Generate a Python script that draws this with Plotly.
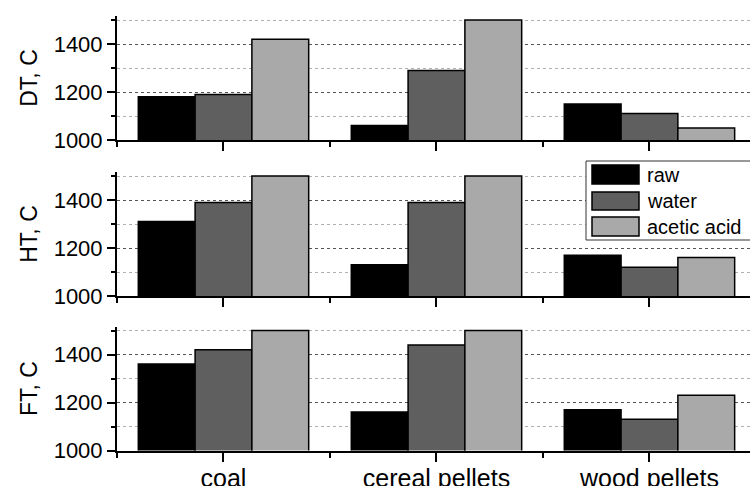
import plotly.graph_objects as go

categories = ["coal", "cereal pellets", "wood pellets"]
series_names = ["raw", "water", "acetic acid"]
series_colors = ["#000000", "#5f5f5f", "#a9a9a9"]

dt_raw = [1180, 1060, 1150]
dt_water = [1190, 1290, 1110]
dt_acid = [1420, 1500, 1050]

ht_raw = [1310, 1130, 1170]
ht_water = [1390, 1390, 1120]
ht_acid = [1500, 1500, 1160]

ft_raw = [1360, 1160, 1170]
ft_water = [1420, 1440, 1130]
ft_acid = [1500, 1500, 1230]

panel_titles = ["DT, C", "HT, C", "FT, C"]
panels = [
    [dt_raw, dt_water, dt_acid],
    [ht_raw, ht_water, ht_acid],
    [ft_raw, ft_water, ft_acid],
]

W, H = 750, 486
FONT = "Liberation Sans, Arial, sans-serif"
x_pos = list(range(len(categories)))

fig = go.Figure()

# panel pixel extents (top, bottom)
panel_px = [(16, 140), (172, 296), (326.5, 450.5)]

for i, vals in enumerate(panels):
    xa = "x" if i == 0 else f"x{i+1}"
    ya = "y" if i == 0 else f"y{i+1}"
    for name, col, v in zip(series_names, series_colors, vals):
        fig.add_trace(go.Bar(
            x=x_pos, y=v, name=name, xaxis=xa, yaxis=ya,
            marker=dict(color=col, line=dict(color="#000000", width=1.5)),
            showlegend=False,
        ))

layout = dict(
    width=W, height=H,
    margin=dict(l=0, r=0, t=0, b=0),
    paper_bgcolor="white", plot_bgcolor="white",
    barmode="group", bargap=0.2, bargroupgap=0,
    font=dict(family=FONT, color="#000000", size=22),
    showlegend=False,
)

x_domain = [117 / W, 1.0]
for i, (top, bot) in enumerate(panel_px):
    xk = "xaxis" if i == 0 else f"xaxis{i+1}"
    yk = "yaxis" if i == 0 else f"yaxis{i+1}"
    ya = "y" if i == 0 else f"y{i+1}"
    xa = "x" if i == 0 else f"x{i+1}"
    layout[xk] = dict(
        domain=x_domain, anchor=ya,
        range=[-0.5, 2.472],
        tickmode="array", tickvals=x_pos, ticktext=categories,
        showticklabels=(i == 2),
        ticks="outside", ticklen=9, tickwidth=2, tickcolor="#000000",
        minor=dict(tickmode="array", tickvals=[-0.5, 0.5, 1.5, 2.5],
                   ticks="outside", ticklen=5, tickwidth=2, tickcolor="#000000"),
        showline=True, linecolor="#000000", linewidth=2,
        showgrid=False, zeroline=False,
        tickfont=dict(size=25, family=FONT),
        ticklabelstandoff=-5,
        automargin=False, fixedrange=True,
    )
    layout[yk] = dict(
        domain=[1 - bot / H, 1 - top / H], anchor=xa,
        range=[1000, 1516.7],
        tickmode="array", tickvals=[1000, 1200, 1400],
        ticks="outside", ticklen=8, tickwidth=2, tickcolor="#000000",
        minor=dict(tickmode="array", tickvals=[1100, 1300, 1500],
                   ticks="outside", ticklen=4, tickwidth=2, tickcolor="#000000",
                   showgrid=True, gridcolor="#b0b0b0", griddash="dot", gridwidth=1),
        showgrid=True, gridcolor="#555555", griddash="dot", gridwidth=1,
        showline=True, linecolor="#000000", linewidth=2,
        zeroline=False,
        tickfont=dict(size=22, family=FONT),
        title=dict(text=panel_titles[i], font=dict(size=23, family=FONT), standoff=10),
        automargin=False, fixedrange=True,
    )

fig.update_layout(**layout)

# Legend drawn manually (box, swatches, labels) in paper coordinates
def px(x):
    return x / W

def py(y):
    return 1 - y / H

shapes = [dict(type="rect", xref="paper", yref="paper",
               x0=px(586), x1=px(753), y0=py(240), y1=py(161),
               fillcolor="white", line=dict(color="#333333", width=1), layer="above")]
rows = [(165, 184), (192, 210), (217, 236)]
annotations = []
for (t, b), name, col in zip(rows, series_names, series_colors):
    shapes.append(dict(type="rect", xref="paper", yref="paper",
                       x0=px(592), x1=px(639), y0=py(b), y1=py(t),
                       fillcolor=col, line=dict(color="#000000", width=1.5), layer="above"))
    annotations.append(dict(xref="paper", yref="paper", x=px(645), y=py((t + b) / 2),
                            text=name, showarrow=False, xanchor="left", yanchor="middle",
                            font=dict(size=20, family=FONT, color="#000000")))
fig.update_layout(shapes=shapes, annotations=annotations)

fig.write_html(
    "out.html",
    config={"displayModeBar": False},
    post_script="document.body.style.margin='0';document.body.style.overflow='hidden';",
)
